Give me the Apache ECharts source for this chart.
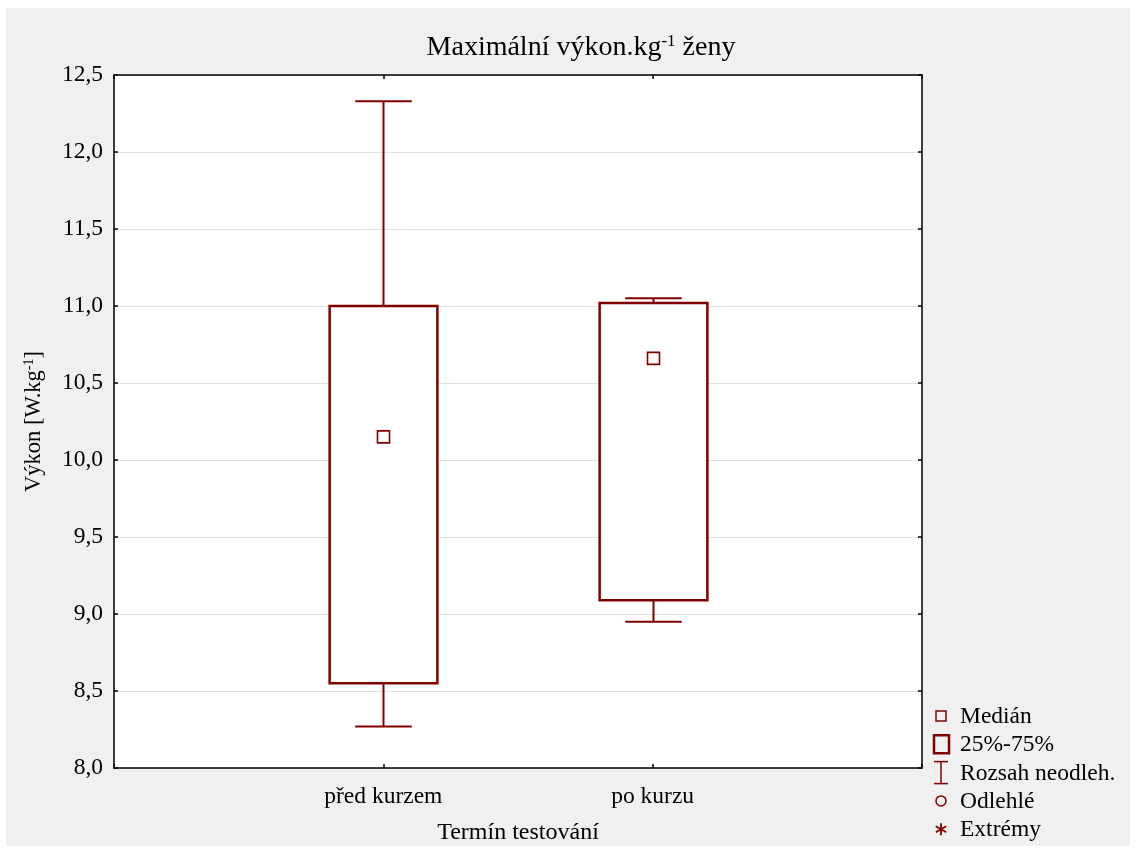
<!DOCTYPE html>
<html>
<head>
<meta charset="utf-8">
<script src="https://cdn.jsdelivr.net/npm/echarts@6/dist/echarts.min.js"></script>
<style>
  html, body { margin: 0; padding: 0; background: #fff; }
  #chart { width: 1136px; height: 851px; }
</style>
</head>
<body>
<div id="chart"></div>
<script>
// Box-plot summary per testing term
const categories = ['před kurzem', 'po kurzu'];
const whiskerLow  = [8.27, 8.95];
const boxLow      = [8.55, 9.09];
const medians     = [10.15, 10.66];
const boxHigh     = [11.00, 11.02];
const whiskerHigh = [12.33, 11.05];

const yTicks = { min: 8.0, max: 12.5, interval: 0.5 };

const RED = '#800000';
const FONT = '"Liberation Serif", "DejaVu Serif", serif';

// categories sit at x = 1, 2 on a 0..3 value axis
const boxData = categories.map((c, i) => [i + 1, whiskerLow[i], boxLow[i], medians[i], boxHigh[i], whiskerHigh[i]]);

function renderBox(params, api) {
  const x = api.value(0);
  const pLow = api.coord([x, api.value(1)]);
  const pQ1 = api.coord([x, api.value(2)]);
  const pMed = api.coord([x, api.value(3)]);
  const pQ3 = api.coord([x, api.value(4)]);
  const pHigh = api.coord([x, api.value(5)]);
  const boxW = api.size([0.4, 0])[0];
  const capW = api.size([0.21, 0])[0];
  const cx = Math.round(pQ1[0]) + 0.5;
  const lineStyle = { stroke: RED, lineWidth: 2, fill: null };
  const m = 12;
  return {
    type: 'group',
    children: [
      { type: 'rect', shape: { x: cx - boxW / 2, y: pQ3[1], width: boxW, height: pQ1[1] - pQ3[1] }, style: { stroke: RED, lineWidth: 2.5, fill: '#fff' } },
      { type: 'line', shape: { x1: cx, y1: pQ3[1], x2: cx, y2: pHigh[1] }, style: lineStyle },
      { type: 'line', shape: { x1: cx - capW / 2, y1: pHigh[1], x2: cx + capW / 2, y2: pHigh[1] }, style: lineStyle },
      { type: 'line', shape: { x1: cx, y1: pQ1[1], x2: cx, y2: pLow[1] }, style: lineStyle },
      { type: 'line', shape: { x1: cx - capW / 2, y1: pLow[1], x2: cx + capW / 2, y2: pLow[1] }, style: lineStyle },
      { type: 'rect', shape: { x: cx - m / 2, y: pMed[1] - m / 2, width: m, height: m }, style: { stroke: RED, lineWidth: 1.6, fill: '#fff' } }
    ]
  };
}

const legendItems = ['Medián', '25%-75%', 'Rozsah neodleh.', 'Odlehlé', 'Extrémy'];
const legX = 941, legTextX = 960, legY0 = 716, legDy = 28.3;

function legendGraphics() {
  const g = [];
  legendItems.forEach((t, i) => {
    const y = legY0 + i * legDy;
    g.push({ type: 'text', left: legTextX, top: y - 11, style: { text: t, font: '23.5px ' + FONT, fill: '#000' } });
  });
  const y = i => legY0 + i * legDy;
  g.push({ type: 'rect', shape: { x: legX - 5, y: y(0) - 5, width: 10, height: 10 }, style: { stroke: RED, lineWidth: 1.5, fill: 'none' } });
  g.push({ type: 'rect', shape: { x: legX - 7, y: y(1) - 9, width: 15, height: 18 }, style: { stroke: RED, lineWidth: 2.5, fill: 'none' } });
  g.push({ type: 'polyline', shape: { points: [[legX - 7, y(2) - 11], [legX + 7, y(2) - 11]] }, style: { stroke: RED, lineWidth: 1.5 } });
  g.push({ type: 'polyline', shape: { points: [[legX, y(2) - 11], [legX, y(2) + 11]] }, style: { stroke: RED, lineWidth: 1.5 } });
  g.push({ type: 'polyline', shape: { points: [[legX - 7, y(2) + 11], [legX + 7, y(2) + 11]] }, style: { stroke: RED, lineWidth: 1.5 } });
  g.push({ type: 'circle', shape: { cx: legX, cy: y(3), r: 5 }, style: { stroke: RED, lineWidth: 1.5, fill: 'none' } });
  const ay = y(4);
  [[0, 6], [5.2, 3], [5.2, -3]].forEach(d => {
    g.push({ type: 'line', shape: { x1: legX - d[0], y1: ay - d[1], x2: legX + d[0], y2: ay + d[1] }, style: { stroke: RED, lineWidth: 1.8 } });
  });
  return g;
}

const chart = echarts.init(document.getElementById('chart'), null, { renderer: 'canvas' });

const inTicks = { show: true, inside: true, length: 4, lineStyle: { color: '#000', width: 1.5 } };
const frameLine = { show: true, onZero: false, lineStyle: { color: '#000', width: 1.5 } };

chart.setOption({
  backgroundColor: '#ffffff',
  animation: false,
  title: {
    text: 'Maximální výkon.kg{sup|-1} ženy',
    left: 576, top: 28, textAlign: 'center',
    textStyle: {
      fontFamily: FONT, fontSize: 28, fontWeight: 'normal', color: '#000',
      rich: { sup: { fontFamily: FONT, fontSize: 17, verticalAlign: 'top', padding: [0, 0, 12, 0], color: '#000' } }
    }
  },
  grid: { left: 114, top: 75, right: 214, bottom: 83, show: true, backgroundColor: '#fff', borderWidth: 0 },
  xAxis: [{
    type: 'value', min: 0, max: 3, interval: 1,
    name: 'Termín testování', nameLocation: 'middle', nameGap: 53,
    nameTextStyle: { fontFamily: FONT, fontSize: 24, color: '#000' },
    axisLine: frameLine,
    axisTick: inTicks,
    splitLine: { show: false },
    axisLabel: {
      fontFamily: FONT, fontSize: 23.5, color: '#000', margin: 17,
      formatter: v => (v >= 1 && v <= categories.length && Number.isInteger(v)) ? categories[v - 1] : ''
    }
  }, {
    type: 'value', min: 0, max: 3, interval: 1, position: 'top',
    axisLine: frameLine, axisTick: inTicks, axisLabel: { show: false }, splitLine: { show: false }
  }],
  yAxis: [{
    type: 'value', min: yTicks.min, max: yTicks.max, interval: yTicks.interval,
    name: 'Výkon [W.kg{sup|-1}]', nameLocation: 'middle', nameGap: 67, nameRotate: 90,
    nameTextStyle: {
      fontFamily: FONT, fontSize: 22.5, color: '#000',
      rich: { sup: { fontFamily: FONT, fontSize: 14, verticalAlign: 'top', padding: [0, 0, 11, 0], color: '#000' } }
    },
    axisLine: frameLine,
    axisTick: inTicks,
    splitLine: { show: true, lineStyle: { color: '#e2e2e2', width: 1 } },
    axisLabel: {
      fontFamily: FONT, fontSize: 23.5, color: '#000', margin: 11,
      formatter: v => v.toFixed(1).replace('.', ',')
    }
  }, {
    type: 'value', min: yTicks.min, max: yTicks.max, interval: yTicks.interval, position: 'right',
    axisLine: frameLine, axisTick: inTicks, axisLabel: { show: false }, splitLine: { show: false }
  }],
  graphic: [
    { type: 'rect', z: -100, silent: true, shape: { x: 6, y: 8, width: 1124, height: 838 }, style: { fill: '#f0f0f0' } }
  ].concat(legendGraphics()),
  series: [{
    type: 'custom',
    renderItem: renderBox,
    data: boxData,
    encode: { x: 0, y: [1, 2, 3, 4, 5] },
    z: 10
  }]
});
</script>
</body>
</html>
